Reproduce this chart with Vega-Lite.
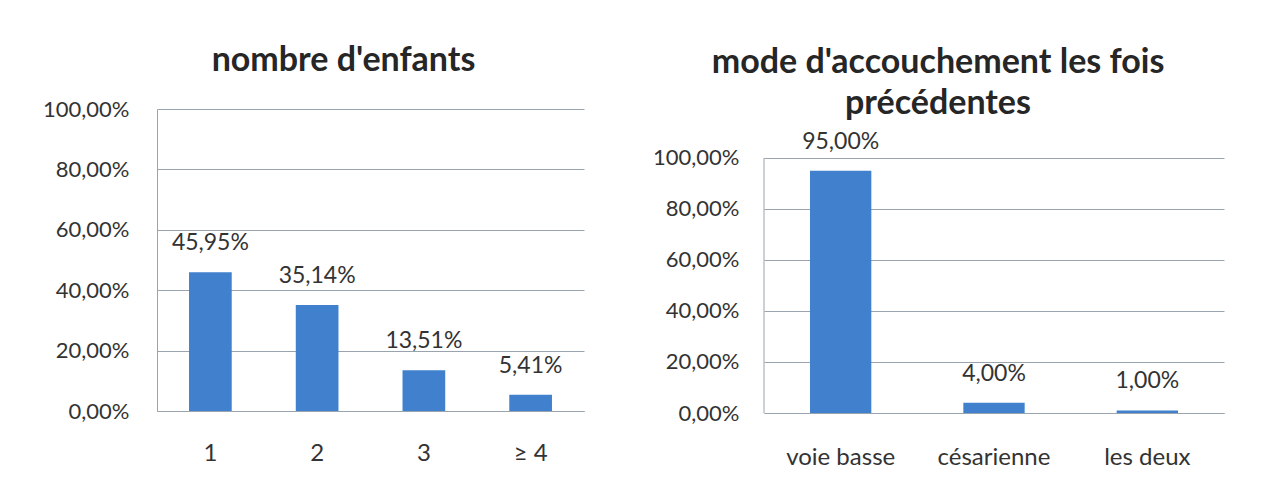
{
  "$schema": "https://vega.github.io/schema/vega-lite/v6.json",
  "background": "white",
  "padding": {"left": 42, "top": 44, "right": 5, "bottom": 5},
  "autosize": {"type": "pad"},
  "spacing": 68,
  "config": {
    "locale": {"number": {"decimal": ",", "thousands": " ", "grouping": [3], "currency": ["", " €"]}},
    "font": "Lato",
    "view": {"stroke": null},
    "title": {"font": "Lato", "fontSize": 34, "fontWeight": "bold", "color": "#262626", "lineHeight": 41},
    "axis": {
      "title": null,
      "labelFont": "Lato",
      "labelFontSize": 22,
      "labelColor": "#333333",
      "ticks": false,
      "domainColor": "#9aa4ae",
      "gridColor": "#9aa4ae",
      "gridOpacity": 1
    },
    "text": {"font": "Lato", "fontSize": 23, "color": "#333333"}
  },
  "hconcat": [
    {
      "width": 427,
      "height": 302,
      "title": {"text": "nombre d'enfants", "offset": 20, "dx": -27},
      "data": {"values": [
        {"enfants": "1", "pct": 0.4595},
        {"enfants": "2", "pct": 0.3514},
        {"enfants": "3", "pct": 0.1351},
        {"enfants": "≥ 4", "pct": 0.0541}
      ]},
      "encoding": {
        "x": {"field": "enfants", "type": "nominal", "sort": null,
              "scale": {"paddingInner": 0.6, "paddingOuter": 0.3},
              "axis": {"labelAngle": 0, "labelPadding": 30, "labelFontSize": 24, "grid": false}},
        "y": {"field": "pct", "type": "quantitative",
              "scale": {"domain": [0, 1]},
              "axis": {"format": ".2%", "values": [0, 0.2, 0.4, 0.6, 0.8, 1], "labelPadding": 28, "grid": true}}
      },
      "layer": [
        {"mark": {"type": "bar", "color": "#4080cc"}},
        {"mark": {"type": "text", "baseline": "bottom", "dy": -17},
         "encoding": {"text": {"field": "pct", "type": "quantitative", "format": ".2%"}}}
      ]
    },
    {
      "width": 460,
      "height": 304,
      "title": {"text": ["mode d'accouchement les fois", "précédentes"], "offset": -12, "dx": -56},
      "data": {"values": [
        {"mode": "voie basse", "pct": 0.95},
        {"mode": "césarienne", "pct": 0.04},
        {"mode": "les deux", "pct": 0.01}
      ]},
      "encoding": {
        "x": {"field": "mode", "type": "nominal", "sort": null,
              "scale": {"paddingInner": 0.6, "paddingOuter": 0.3},
              "axis": {"labelAngle": 0, "labelPadding": 32, "labelFontSize": 24, "grid": false}},
        "y": {"field": "pct", "type": "quantitative",
              "scale": {"domain": [0, 1.192], "nice": false},
              "axis": {"format": ".2%", "values": [0, 0.2, 0.4, 0.6, 0.8, 1], "labelPadding": 25, "grid": true, "domain": false}}
      },
      "layer": [
        {"mark": {"type": "bar", "color": "#4080cc"}},
        {"mark": {"type": "text", "baseline": "bottom", "dy": -17},
         "encoding": {"text": {"field": "pct", "type": "quantitative", "format": ".2%"}}},
        {"data": {"values": [{"mode": "voie basse", "low": 0, "high": 1}]},
         "mark": {"type": "rule", "color": "#9aa4ae", "strokeWidth": 1},
         "encoding": {
           "x": {"field": "mode", "type": "nominal", "bandPosition": -0.75},
           "y": {"field": "low", "type": "quantitative"},
           "y2": {"field": "high"}
         }}
      ]
    }
  ]
}
